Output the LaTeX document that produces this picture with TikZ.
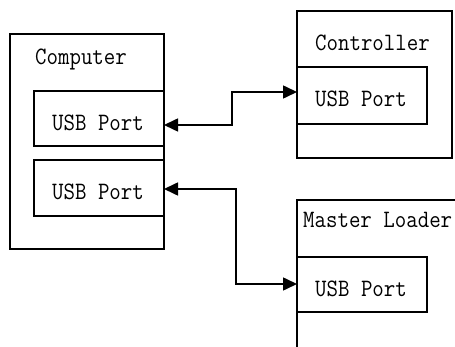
\documentclass[tikz,border=0pt]{standalone}
\usepackage{fontspec}
\newfontfamily\diafont[FakeStretch=0.89]{Latin Modern Mono}
\usetikzlibrary{arrows.meta}
\begin{document}
\begin{tikzpicture}[x=1pt,y=-1pt,
  box/.style={draw, line width=1.2pt},
  lbl/.style={anchor=base west, inner sep=0pt, font=\diafont\fontsize{25}{25}\selectfont},
  conn/.style={line width=1.6pt, {Triangle[length=14pt,width=13pt]}-{Triangle[length=14pt,width=13pt]}}]
\useasboundingbox (0,0) rectangle (455,347);
\begin{scope}
\clip (0,0) rectangle (455,347);
% Computer
\draw[box] (10,34) rectangle (164,249);
\node[lbl] (tcomp) at (35,65) {Computer};
\draw[box] (34,91) rectangle (164,146);
\coordinate (p1) at (164,125);
\node[lbl] (tp1) at (52,131) {USB Port};
\draw[box] (34,160) rectangle (164,216);
\coordinate (p2) at (164,189);
\node[lbl] (tp2) at (52,200) {USB Port};
% Controller
\draw[box] (297,11) rectangle (452,158);
\node[lbl] (tctrl) at (315,51) {Controller};
\draw[box] (297,67) rectangle (427,124);
\coordinate (c1) at (297,92);
\node[lbl] (tp3) at (315,107) {USB Port};
% Master Loader
\draw[box] (297,200) rectangle (470,360);
\node[lbl] (tml) at (303,228) {Master Loader};
\draw[box] (297,257) rectangle (427,312);
\coordinate (m1) at (297,284);
\node[lbl] (tp4) at (315,297) {USB Port};
\end{scope}
% connectors
\draw[conn] (p1) -- (232,125) -- (232,92) -- (c1);
\draw[conn] (p2) -- (236,189) -- (236,284) -- (m1);
\end{tikzpicture}
\end{document}
